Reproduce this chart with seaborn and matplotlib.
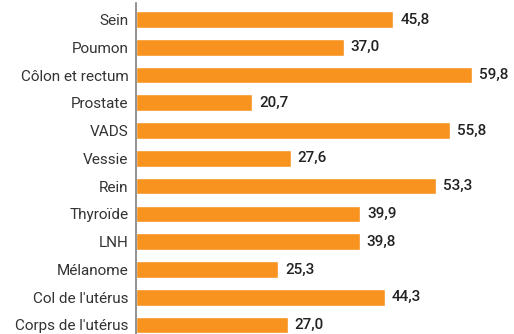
import matplotlib
matplotlib.use("Agg")
import matplotlib.pyplot as plt
import seaborn as sns
import pandas as pd

categories = ["Sein", "Poumon", "Côlon et rectum", "Prostate", "VADS", "Vessie",
              "Rein", "Thyroïde", "LNH", "Mélanome", "Col de l'utérus", "Corps de l'utérus"]
values = [45.8, 37.0, 59.8, 20.7, 55.8, 27.6, 53.3, 39.9, 39.8, 25.3, 44.3, 27.0]
value_labels = ["45,8", "37,0", "59,8", "20,7", "55,8", "27,6",
                "53,3", "39,9", "39,8", "25,3", "44,3", "27,0"]

sns.set_theme(style="white")
plt.rcParams["font.family"] = ["Roboto", "DejaVu Sans"]

df = pd.DataFrame({"cat": categories, "val": values})

W, H = 514, 334
fig = plt.figure(figsize=(W / 100, H / 100), dpi=100)
left_px, top_px = 135.5, 3
ax = fig.add_axes([left_px / W, 0, 1 - left_px / W, (H - top_px) / H])

sns.barplot(data=df, x="val", y="cat", orient="h", color="#F7931E",
            saturation=1, width=0.6, ax=ax)

px_per_unit = 5.63
ax.set_xlim(0, (W - left_px) / px_per_unit)
ax.set_ylim(11.325, -0.594)

for i, (v, lab) in enumerate(zip(values, value_labels)):
    ax.annotate(lab, xy=(v, i), xytext=(5, 0), textcoords="offset points",
                va="center", ha="left", fontsize=11, color="#222222",
                fontweight="medium")

ax.set_xlabel("")
ax.set_ylabel("")
ax.set_xticks([])
ax.tick_params(axis="y", length=0, pad=5, labelsize=11, labelcolor="#333333")
for s in ["top", "right", "bottom"]:
    ax.spines[s].set_visible(False)
ax.spines["left"].set_color("#808080")
ax.spines["left"].set_linewidth(1.2)

fig.savefig("out.png", dpi=100)
